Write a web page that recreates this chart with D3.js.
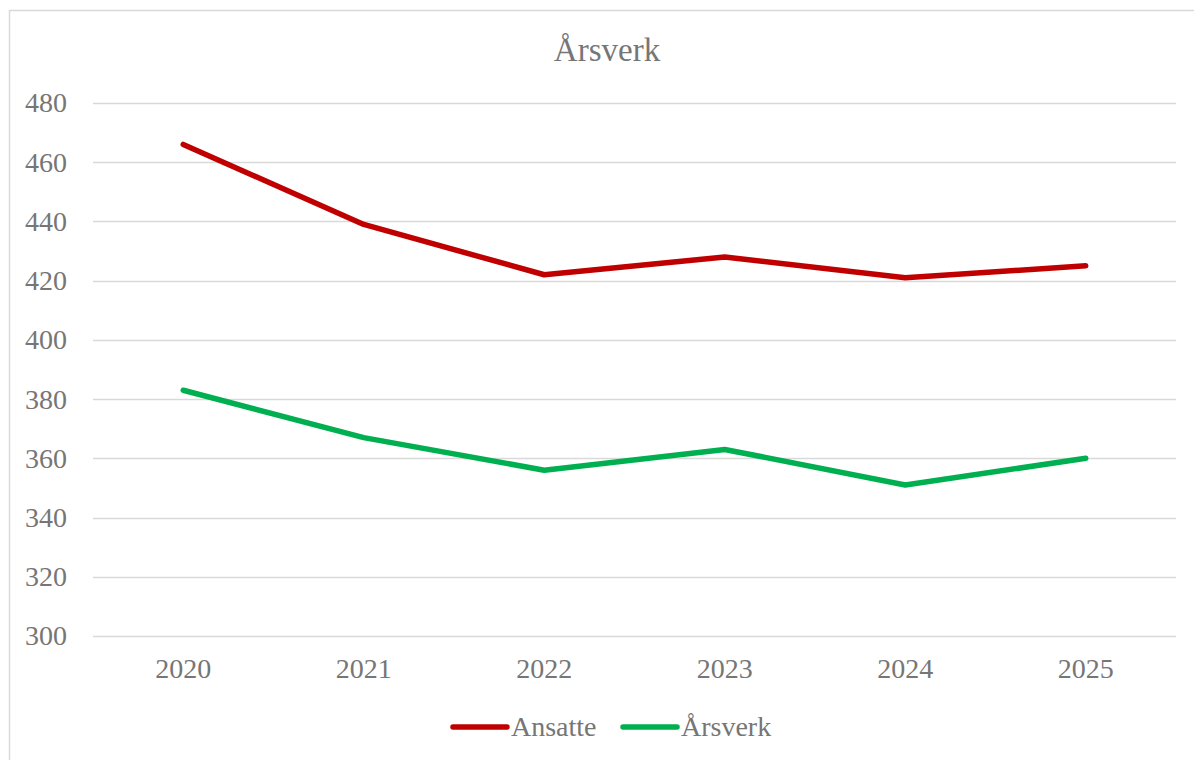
<!DOCTYPE html>
<html>
<head>
<meta charset="utf-8">
<script src="https://cdn.jsdelivr.net/npm/d3@7"></script>
<style>
  body { margin: 0; background: #fff; }
  text { font-family: "Liberation Serif", "DejaVu Serif", serif; fill: #767676; }
</style>
</head>
<body>
<div id="chart"></div>
<script>
// chart data
var years = ["2020", "2021", "2022", "2023", "2024", "2025"];
var ansatte = [466, 439, 422, 428, 421, 425];
var arsverk = [383, 367, 356, 363, 351, 360];
var yTicks = [300, 320, 340, 360, 380, 400, 420, 440, 460, 480];
var seriesNames = ["Ansatte", "Årsverk"];
var seriesColors = ["#c00000", "#00b050"];

var w = 1194,
    h = 760;

var svg = d3.select("#chart")
    .append("svg")
    .attr("width", w)
    .attr("height", h);

// outer frame (runs off the right and bottom edge)
svg.append("rect")
    .attr("x", 9.5)
    .attr("y", 10.5)
    .attr("width", 1200)
    .attr("height", 800)
    .attr("fill", "none")
    .attr("stroke", "#d9d9d9")
    .attr("stroke-width", 1.5);

var xScale = d3.scaleBand()
    .domain(years)
    .range([93, 1176]);

var yScale = d3.scaleLinear()
    .domain([300, 480])
    .range([636, 103]);

// title
svg.append("text")
    .attr("x", 607)
    .attr("y", 61)
    .attr("text-anchor", "middle")
    .style("font-size", "33px")
    .text("Årsverk");

// gridlines
svg.append("g")
    .selectAll("line")
    .data(yTicks)
    .enter().append("line")
    .attr("x1", xScale.range()[0])
    .attr("x2", xScale.range()[1])
    .attr("y1", function (d) { return Math.round(yScale(d)) + 0.5; })
    .attr("y2", function (d) { return Math.round(yScale(d)) + 0.5; })
    .attr("stroke", "#d9d9d9")
    .attr("stroke-width", 1.5);

// y axis labels
var yAxis = d3.axisLeft(yScale)
    .tickValues(yTicks)
    .tickSize(0)
    .tickPadding(0);
var gY = svg.append("g")
    .attr("transform", "translate(67,0)")
    .call(yAxis);
gY.select(".domain").remove();
gY.selectAll("text")
    .style("font-size", "28px")
    .attr("font-family", null)
    .attr("fill", null);

// x axis labels
var xAxis = d3.axisBottom(xScale)
    .tickSize(0)
    .tickPadding(0);
var gX = svg.append("g")
    .attr("transform", "translate(0,658)")
    .call(xAxis);
gX.select(".domain").remove();
gX.selectAll("text")
    .style("font-size", "28px")
    .attr("font-family", null)
    .attr("fill", null);

// lines
var line = d3.line()
    .x(function (d, i) { return xScale(years[i]) + xScale.bandwidth() / 2; })
    .y(function (d) { return yScale(d); });

[ansatte, arsverk].forEach(function (series, k) {
    svg.append("path")
        .datum(series)
        .attr("d", line)
        .attr("fill", "none")
        .attr("stroke", seriesColors[k])
        .attr("stroke-width", 5.5)
        .attr("stroke-linejoin", "round")
        .attr("stroke-linecap", "round");
});

// legend
var legendX = [453, 623];
var legend = svg.append("g")
    .selectAll("g")
    .data(seriesNames)
    .enter().append("g")
    .attr("transform", function (d, i) { return "translate(" + legendX[i] + ",727)"; });

legend.append("line")
    .attr("x1", 0)
    .attr("x2", 54)
    .attr("y1", 0)
    .attr("y2", 0)
    .attr("stroke", function (d, i) { return seriesColors[i]; })
    .attr("stroke-width", 5.5)
    .attr("stroke-linecap", "round");

legend.append("text")
    .attr("x", 58)
    .attr("y", 9)
    .style("font-size", "28px")
    .text(function (d) { return d; });
</script>
</body>
</html>
